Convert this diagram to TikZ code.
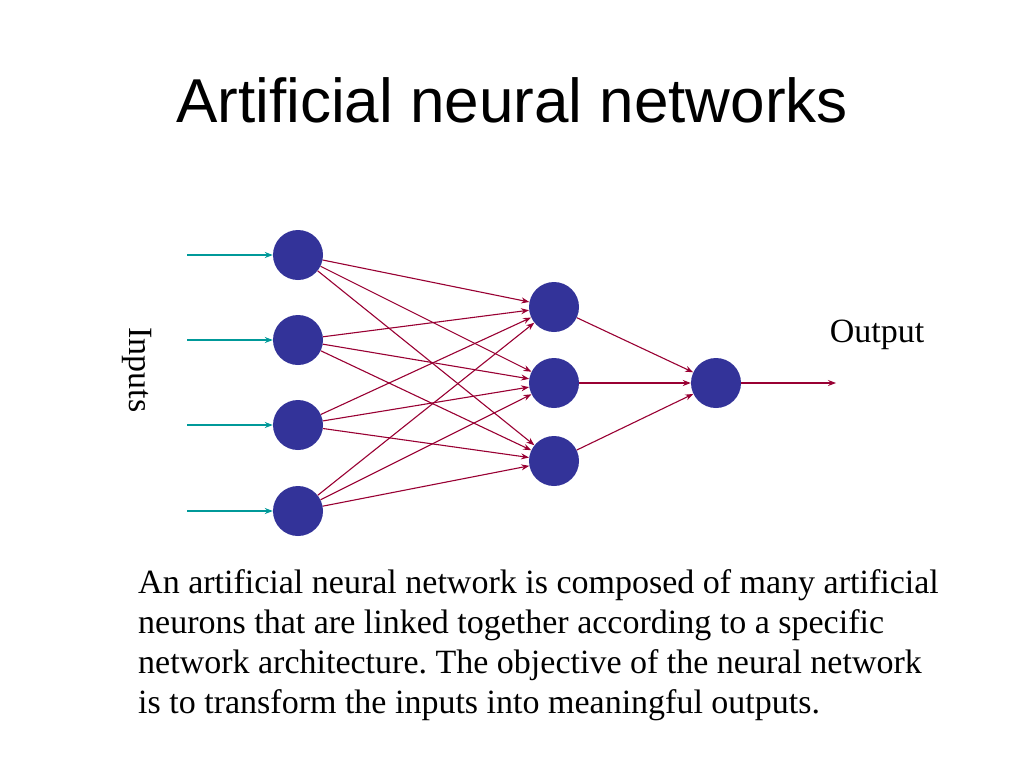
\documentclass[tikz,border=0pt]{standalone}
\usepackage{fontspec}
\setmainfont{Liberation Serif}
\newfontfamily\hsans{Liberation Sans}
\usetikzlibrary{arrows.meta}
\definecolor{neuron}{RGB}{51,51,153}
\definecolor{wire}{RGB}{153,0,51}
\definecolor{inwire}{RGB}{0,153,153}
\frenchspacing
\begin{document}
\begin{tikzpicture}[x=1pt,y=-1pt,
  neu/.style={circle,fill=neuron,minimum size=50pt,inner sep=0pt},
  con/.style={wire,line width=1.1pt,-{Stealth[length=8pt,width=6pt]}},
  inc/.style={inwire,line width=1.1pt,-{Stealth[length=8pt,width=6pt]}}]
\useasboundingbox[fill=white] (0,0) rectangle (1024,768);
\node[font=\hsans\fontsize{62}{70}\selectfont] (title) at (512,100) {Artificial neural networks};
\foreach \i/\y in {1/255,2/340,3/425,4/511}{
  \node[neu] (i\i) at (298,\y) {};
  \coordinate (s\i) at (187,\y);
  \draw[inc] (s\i) -- (i\i);
}
\foreach \j/\y in {1/307,2/383,3/461}{ \node[neu] (h\j) at (554,\y) {}; }
\node[neu] (o) at (716,383) {};
\foreach \i in {1,...,4}{\foreach \j in {1,2,3}{\draw[con] (i\i) -- (h\j);}}
\foreach \j in {1,2,3}{\draw[con] (h\j) -- (o);}
\coordinate (oe) at (836,383);
\draw[con] (o) -- (oe);
\node[rotate=-90,font=\fontsize{34}{38}\selectfont] (inl) at (137,370) {Inputs};
\node[font=\fontsize{34}{38}\selectfont] (outl) at (877,335) {Output};
\node[anchor=base west,align=left,font=\fontsize{34}{40}\selectfont,inner sep=0pt] (txt) at (138,713) {An artificial neural network is composed of many artificial\\neurons that are linked together according to a specific\\network architecture. The objective of the neural network\\is to transform the inputs into meaningful outputs.};
\end{tikzpicture}
\end{document}
